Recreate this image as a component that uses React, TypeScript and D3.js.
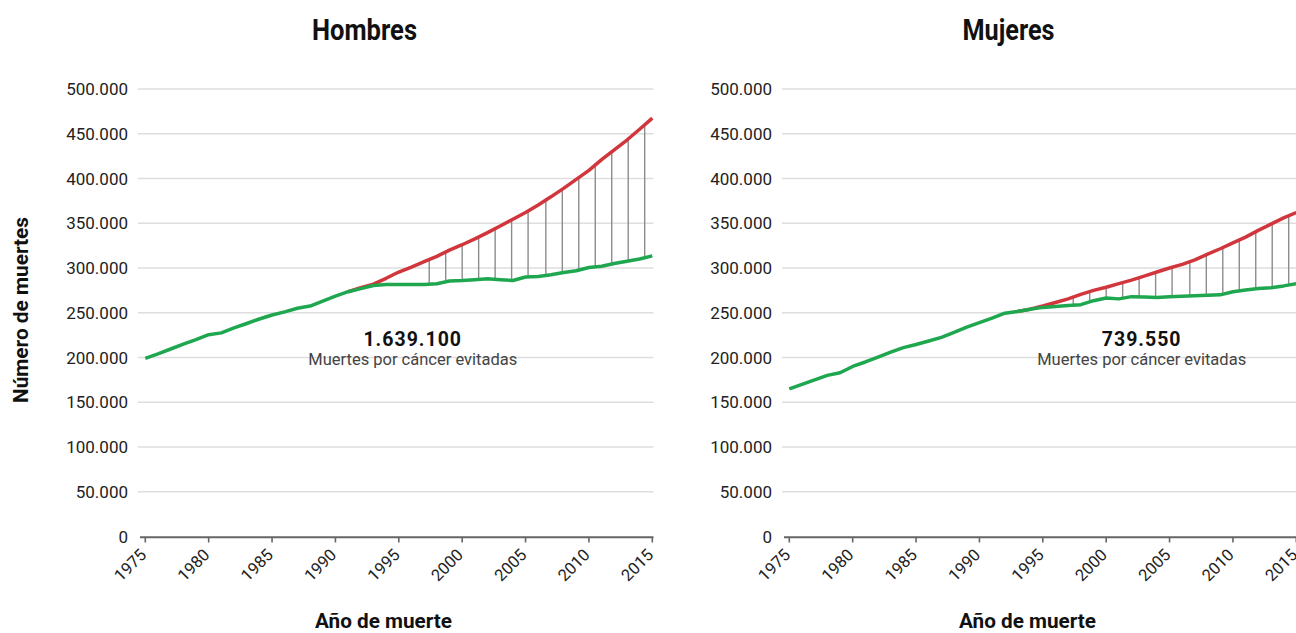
import React from "react";
import * as d3 from "d3";

// ---------- data ----------
const years = [
  1975, 1976, 1977, 1978, 1979, 1980, 1981, 1982, 1983, 1984, 1985, 1986, 1987, 1988,
  1989, 1990, 1991, 1992, 1993, 1994, 1995, 1996, 1997, 1998, 1999, 2000, 2001, 2002,
  2003, 2004, 2005, 2006, 2007, 2008, 2009, 2010, 2011, 2012, 2013, 2014, 2015,
];

// Hombres: observed deaths (green)
const menObserved = [
  199000, 204000, 209500, 215000, 220000, 225500, 227500, 233000, 238000, 243000, 247500,
  251000, 255000, 257500, 263000, 268500, 273500, 277000, 280500, 281500, 281500, 281500,
  281500, 282500, 285500, 286000, 287000, 288000, 287000, 286000, 290000, 290500, 292500,
  295000, 297000, 300500, 302000, 305000, 307500, 310000, 313500,
];
// Hombres: expected deaths at peak rate (red)
const menExpected = [
  null, null, null, null, null, null, null, null, null, null, null, null, null, null, null,
  null, 273500, 278000, 282000, 288500, 295500, 301000, 307000, 313000, 320000, 326000,
  332500, 339500, 347000, 354500, 362000, 370500, 379500, 389000, 399000, 409000, 421000,
  432000, 443000, 455000, 467500,
];

// Mujeres: observed deaths (green)
const womenObserved = [
  165000, 170000, 175000, 180000, 183000, 190000, 195000, 200500, 206000, 211000, 214500,
  218500, 222500, 228000, 234000, 239000, 244000, 249500, 251500, 254000, 256000, 257000,
  258000, 259000, 263500, 266500, 265500, 268000, 267500, 267000, 268000, 268500, 269000,
  269500, 270000, 273500, 275500, 277000, 278000, 280000, 282500,
];
// Mujeres: expected deaths (red)
const womenExpected = [
  null, null, null, null, null, null, null, null, null, null, null, null, null, null, null,
  null, null, null, 251500, 254000, 257500, 261500, 265500, 270500, 275000, 278500, 282500,
  286500, 291000, 295500, 300000, 304000, 309000, 315500, 321500, 328000, 334500, 342000,
  349000, 356000, 362000,
];

// years where the gap (avoided deaths) is marked with a vertical line
const dropYears = [
  1997.4, 1998.7, 2000.0, 2001.3, 2002.6, 2003.9, 2005.2, 2006.6, 2007.9, 2009.2, 2010.5,
  2011.8, 2013.1, 2014.4,
];

const xTicks = [1975, 1980, 1985, 1990, 1995, 2000, 2005, 2010, 2015];
const yTicks = [0, 50000, 100000, 150000, 200000, 250000, 300000, 350000, 400000, 450000, 500000];

const panelTitles = ["Hombres", "Mujeres"];
const avoidedTotals = ["1.639.100", "739.550"];
const avoidedLabel = "Muertes por cáncer evitadas";
const xAxisTitle = "Año de muerte";
const yAxisTitle = "Número de muertes";

// ---------- style ----------
const GREEN = "#1fa750";
const RED = "#d1363d";
const GRID = "#dedede";
const AXIS = "#666";
const TEXT = "#222";

const esLocale = d3.formatLocale({
  decimal: ",",
  thousands: ".",
  grouping: [3],
  currency: ["", " €"],
});
const fmt = esLocale.format(",d");

const yScale = d3.scaleLinear().domain([0, 500000]).range([536.5, 89]);

type PanelProps = {
  offset: number;
  title: string;
  titleWidth: number;
  observed: (number | null)[];
  expected: (number | null)[];
  total: string;
  labelYear: number;
  showYTitle: boolean;
};

function interp(series: (number | null)[], year: number): number | null {
  const i = Math.floor(year - years[0]);
  const t = year - years[0] - i;
  const a = series[i];
  const b = series[Math.min(i + 1, series.length - 1)];
  if (a == null || b == null) return null;
  return a + (b - a) * t;
}

function Panel({ offset, title, titleWidth, observed, expected, total, labelYear, showYTitle }: PanelProps) {
  const x = d3.scaleLinear().domain([1975, 2015]).range([145.3 + offset, 652.3 + offset]);
  const line = d3
    .line<number | null>()
    .defined((d) => d != null)
    .x((_, i) => x(years[i]))
    .y((d) => yScale(d as number))
    .curve(d3.curveLinear);

  const gridX0 = 138 + offset;
  const gridX1 = 653.5 + offset;
  const titleX = 364.5 + offset;
  const axisTitleX = 383.5 + offset;
  const labelX = x(labelYear);

  return (
    <g>
      <text
        x={titleX}
        y={40}
        textAnchor="middle"
        fontFamily="Roboto, sans-serif"
        fontWeight={700}
        fontSize={29}
        fill="#111"
        textLength={titleWidth}
        lengthAdjust="spacingAndGlyphs"
      >
        {title}
      </text>

      {yTicks.map((v) => (
        <g key={v}>
          {v > 0 && (
            <line x1={gridX0} x2={gridX1} y1={yScale(v)} y2={yScale(v)} stroke={GRID} strokeWidth={1.3} />
          )}
          <text
            x={128 + offset}
            y={yScale(v)}
            dy="0.36em"
            textAnchor="end"
            fontFamily="Roboto, sans-serif"
            fontSize={17}
            fill={TEXT}
          >
            {fmt(v)}
          </text>
        </g>
      ))}

      {/* avoided deaths markers */}
      {dropYears.map((yr) => {
        const lo = interp(observed, yr);
        const hi = interp(expected, yr);
        if (lo == null || hi == null) return null;
        return (
          <line
            key={yr}
            x1={x(yr)}
            x2={x(yr)}
            y1={yScale(lo)}
            y2={yScale(hi)}
            stroke="#8c8c8c"
            strokeWidth={1.4}
          />
        );
      })}

      <path d={line(expected) || ""} fill="none" stroke={RED} strokeWidth={3.5} strokeLinejoin="round" />
      <path d={line(observed) || ""} fill="none" stroke={GREEN} strokeWidth={3.5} strokeLinejoin="round" />

      {/* x axis */}
      <line x1={140 + offset} x2={653.5 + offset} y1={537.3} y2={537.3} stroke={AXIS} strokeWidth={2} />
      {xTicks.map((t) => (
        <g key={t}>
          <line x1={x(t)} x2={x(t)} y1={537.3} y2={542.5} stroke={AXIS} strokeWidth={1.6} />
          <text
            transform={`translate(${x(t) + 2},${556}) rotate(-45)`}
            textAnchor="end"
            fontFamily="Roboto, sans-serif"
            fontSize={16.5}
            fill={TEXT}
          >
            {t}
          </text>
        </g>
      ))}

      <text
        x={axisTitleX}
        y={628}
        textAnchor="middle"
        fontFamily="Roboto, sans-serif"
        fontWeight={700}
        fontSize={21}
        fill="#111"
        textLength={137}
        lengthAdjust="spacingAndGlyphs"
      >
        {xAxisTitle}
      </text>

      {showYTitle && (
        <text
          transform={`translate(28,310) rotate(-90)`}
          textAnchor="middle"
          fontFamily="Roboto, sans-serif"
          fontWeight={700}
          fontSize={20}
          fill="#111"
          textLength={186}
          lengthAdjust="spacingAndGlyphs"
        >
          {yAxisTitle}
        </text>
      )}

      {/* annotation */}
      <text
        x={labelX}
        y={346}
        textAnchor="middle"
        fontFamily="Roboto, sans-serif"
        fontWeight={700}
        fontSize={19.5}
        letterSpacing={1}
        fill="#111"
      >
        {total}
      </text>
      <text
        x={labelX}
        y={365}
        textAnchor="middle"
        fontFamily="Roboto, sans-serif"
        fontSize={16.5}
        fill="#444"
      >
        {avoidedLabel}
      </text>
    </g>
  );
}

export default function App() {
  return (
    <svg
      width={1296}
      height={633}
      style={{ position: "absolute", left: 0, top: 0, overflow: "hidden", background: "#fff" }}
    >
      <rect width={1296} height={633} fill="#fff" />
      <Panel
        offset={0}
        title={panelTitles[0]}
        titleWidth={105}
        observed={menObserved}
        expected={menExpected}
        total={avoidedTotals[0]}
        labelYear={1996.1}
        showYTitle={true}
      />
      <Panel
        offset={644}
        title={panelTitles[1]}
        titleWidth={92}
        observed={womenObserved}
        expected={womenExpected}
        total={avoidedTotals[1]}
        labelYear={2002.8}
        showYTitle={false}
      />
    </svg>
  );
}
